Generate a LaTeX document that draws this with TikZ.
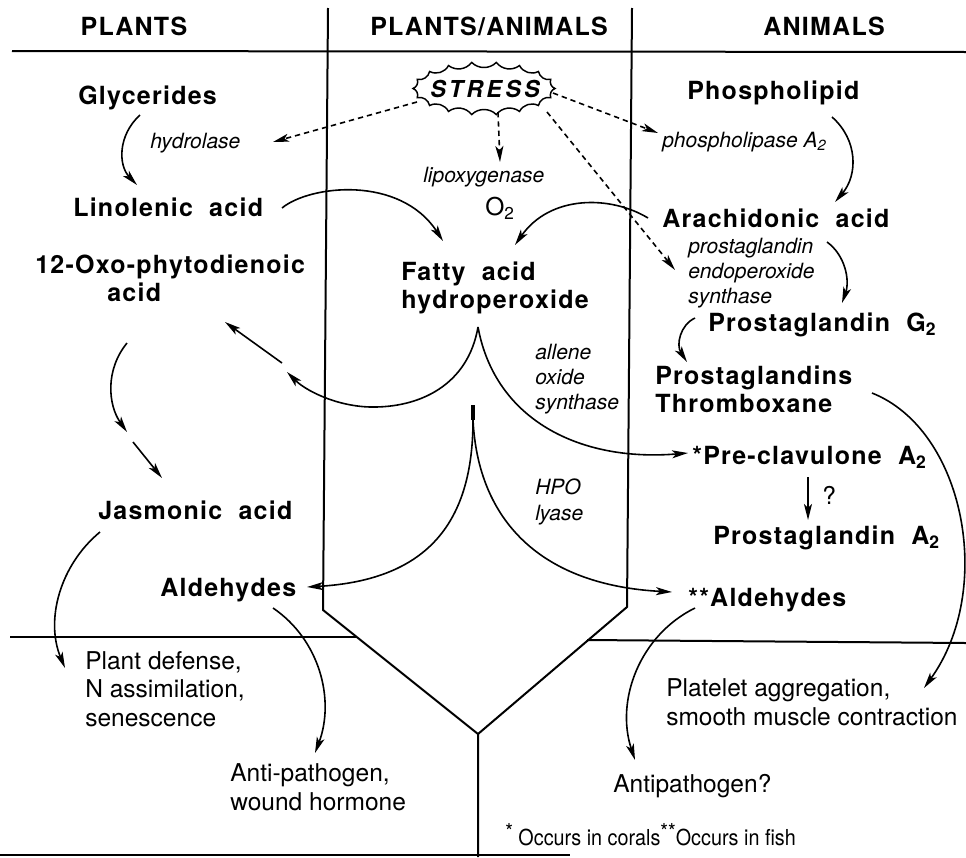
\documentclass[tikz,border=0pt]{standalone}
\usepackage{fontspec}
\setmainfont{TeX Gyre Heros}
\newfontfamily\spaced[LetterSpace=5]{TeX Gyre Heros}
\newfontfamily\stressf[LetterSpace=14]{TeX Gyre Heros}
\newfontfamily\footf[FakeStretch=0.9]{TeX Gyre Heros}
\usetikzlibrary{arrows.meta}
\newcommand\wsp{\hspace{0.65em}}
\newcommand\fnstar[1]{\raisebox{4pt}{#1}}
\tikzset{
 bname/.style={font=\spaced\bfseries\fontsize{18.75}{21}\selectfont, inner sep=0pt, align=left},
 hdr/.style={font=\spaced\bfseries\fontsize{18.75}{21}\selectfont, inner sep=0pt},
 enz/.style={font=\itshape\fontsize{15.75}{19}\selectfont, inner sep=0pt, align=left},
 eff/.style={font=\fontsize{18.4}{21.4}\selectfont, inner sep=0pt, align=left},
 foot/.style={font=\footf\fontsize{16.5}{19}\selectfont, inner sep=0pt},
 arr/.style={line width=1.2pt, -{Stealth[length=12pt,width=6pt,inset=3pt]}},
 darr/.style={arr, dash pattern=on 4pt off 3pt},
 divider/.style={line width=1.5pt},
 burst/.style={line width=1.1pt, fill=white},
}
\begin{document}
\begin{tikzpicture}[x=0.75pt,y=-0.75pt]
\useasboundingbox (0,0) rectangle (966,857);
% dividers
\draw[divider] (12,51) -- (966,52);
\draw[divider] (328,8) -- (323,610) -- (478,734) -- (478,857);
\draw[divider] (632,8) -- (627,607) -- (478,734);
\draw[divider] (10,637) -- (357,637);
\draw[divider] (587,640) -- (966,643);
\draw[divider] (0,855) -- (570,855);
% headers
\node[hdr, anchor=base] (hP) at (134,35) {PLANTS};
\node[hdr, anchor=base] (hPA) at (489,35) {PLANTS/ANIMALS};
\node[hdr, anchor=base] (hA) at (824,35) {ANIMALS};
% stress burst
\path[burst, draw] (555,88.5) \foreach \a in {20,40,...,360}{ to[bend right=45] ({484+71*cos(\a)},{88.5+26.5*sin(\a)}) } -- cycle;
\node[font=\stressf\bfseries\itshape\fontsize{17.5}{20}\selectfont, inner sep=0pt] (stress) at (485,89) {STRESS};
% plant side
\node[bname, anchor=base west] (gly) at (78,104) {Glycerides};
\node[enz, anchor=base west] (hyd) at (150,148) {hydrolase};
\node[bname, anchor=base west] (lin) at (73,216) {Linolenic\wsp acid};
\node[bname, anchor=base west] (opda) at (35,301) {12-Oxo-phytodienoic\\\hspace*{54pt}acid};
\node[bname, anchor=base west] (jas) at (98,519) {Jasmonic\wsp acid};
\node[bname, anchor=base west] (aldL) at (160,596) {Aldehydes};
\node[eff, anchor=west] (pdef) at (85,689) {Plant defense,\\N assimilation,\\senescence};
\node[eff, anchor=west] (apath) at (230,787) {Anti-pathogen,\\wound hormone};
% middle
\node[enz, anchor=base west] (lox) at (423,182) {lipoxygenase};
\node[eff, anchor=base west] (o2) at (485,215) {O\textsubscript{2}};
\node[bname, anchor=west] (fah) at (401,288) {Fatty\wsp acid\\hydroperoxide};
\node[enz, anchor=west] (aos) at (535,379) {allene\\oxide\\synthase};
\node[enz, anchor=west] (hpo) at (535,502) {HPO\\lyase};
% animal side
\node[bname, anchor=base west] (phos) at (687,99) {Phospholipid};
\node[enz, anchor=base west] (pla) at (662,147) {phospholipase A\textsubscript{2}};
\node[bname, anchor=base west] (ara) at (662,227) {Arachidonic\wsp acid};
\node[enz, anchor=west] (pes) at (688,273) {prostaglandin\\endoperoxide\\synthase};
\node[bname, anchor=base west] (pgg) at (708,331) {Prostaglandin\wsp G\textsubscript{2}};
\node[bname, anchor=west] (pgt) at (655,389) {Prostaglandins\\Thromboxane};
\node[bname, anchor=base west] (pcl) at (692,464) {*Pre-clavulone\wsp A\textsubscript{2}};
\node[eff, anchor=base west] (qm) at (822,504) {?};
\node[bname, anchor=base west] (pga) at (713,544) {Prostaglandin\wsp A\textsubscript{2}};
\node[bname, anchor=base west] (aldR) at (688,606) {**Aldehydes};
\node[eff, anchor=west] (plat) at (666,702) {Platelet aggregation,\\smooth muscle contraction};
\node[eff, anchor=base west] (apq) at (613,792) {Antipathogen?};
\node[foot, anchor=base west] (fn) at (505,845) {\fnstar{*} Occurs in corals\fnstar{**}Occurs in fish};
% dashed stress arrows
\draw[darr] (417,102) -- (273,142);
\draw[darr] (498,112) -- (500,162);
\draw[darr] (553,93) -- (658,133);
\draw[darr] (547,112) -- (675,270);
% plant arrows
\draw[arr] (140,115) .. controls (118,135) and (118,165) .. (137,185);
\draw[arr] (282,208) .. controls (310,185) and (400,175) .. (443,241);
\draw[arr] (478,327) .. controls (468,385) and (420,408) .. (370,407) .. controls (335,406) and (305,390) .. (287,372);
\draw[arr] (282,363) -- (225,322);
\draw[arr] (127,343) .. controls (105,370) and (108,405) .. (127,432);
\draw[arr] (133,442) -- (162,478);
\draw[arr] (100,532) .. controls (60,565) and (45,620) .. (65,668);
\draw[arr] (273,608) .. controls (320,640) and (335,700) .. (315,753);
% middle arrows
\draw[line width=2.6pt] (473,405) -- (473,420);
\draw[arr] (473,420) .. controls (473,520) and (430,580) .. (307,587);
\draw[arr] (473,420) .. controls (478,520) and (540,585) .. (672,592);
\draw[arr] (478,327) .. controls (495,420) and (580,462) .. (688,453);
% animal arrows
\draw[arr] (832,117) .. controls (858,140) and (858,175) .. (835,202);
\draw[arr] (648,218) .. controls (610,195) and (550,195) .. (515,245);
\draw[arr] (827,242) .. controls (845,255) and (850,280) .. (842,303);
\draw[arr] (695,318) .. controls (680,325) and (676,345) .. (687,362);
\draw[arr] (808,477) -- (808,520);
\draw[arr] (872,393) .. controls (965,430) and (995,590) .. (924,688);
\draw[arr] (695,608) .. controls (640,635) and (615,700) .. (635,760);
\end{tikzpicture}
\end{document}
